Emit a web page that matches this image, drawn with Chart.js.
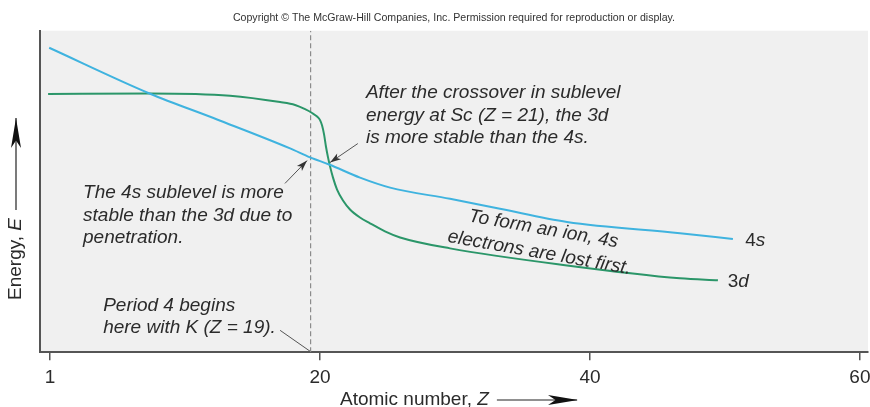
<!DOCTYPE html>
<html>
<head>
<meta charset="utf-8">
<script src="https://cdn.jsdelivr.net/npm/chart.js@4.4.0/dist/chart.umd.min.js"></script>
<style>
  html, body { margin: 0; padding: 0; background: #fff; }
  #wrap { width: 870px; height: 407px; }
</style>
</head>
<body>
<div id="wrap"><canvas id="chart" width="870" height="407"></canvas></div>
<script>
// x axis positions; the first tick is labelled "1"
const xTicks = [0, 20, 40, 60];
const xTickLabels = ['1', '20', '40', '60'];

// 4s sublevel energy (arbitrary units)
const s4X = [-0.07, 7.41, 12.37, 17.78, 19.26, 20.67, 22.96, 25.19, 29.63, 33.33, 38.3, 46.67, 50.59];
const s4Y = [94.7, 80.4, 72.4, 63.4, 60.6, 58.4, 54.3, 51.2, 47.7, 44.6, 40.5, 37.0, 35.2];

// 3d sublevel energy
const d3X = [-0.15, 7.41, 13.33, 17.04, 18.15, 18.89, 19.41, 19.78, 20.0, 20.15, 20.3, 20.44, 20.59,
             20.74, 20.96, 21.26, 21.7, 22.22, 22.96, 23.7, 24.81, 25.93, 29.63, 38.3, 46.67, 49.48];
const d3Y = [80.3, 80.5, 79.8, 77.8, 76.9, 75.6, 74.4, 73.3, 72.2, 70.5, 67.7, 63.9, 60.6,
             57.8, 54.3, 50.6, 47.2, 44.4, 41.9, 40.1, 37.6, 35.7, 32.3, 27.0, 23.0, 22.4];

// start of period 4 (K, Z = 19)
const period4Z = 19.3;

const FONT = "'Liberation Sans', Arial, Helvetica, sans-serif";
const TEXT = '#2b2b2b';
const BLUE = '#3fb3df';
const GREEN = '#2b9669';

// annotation text blocks, anchored in data coords (left, middle of first line)
const notes = [
  { x: 23.4, y: 80.6, lines: ['After the crossover in sublevel', 'energy at Sc (Z = 21), the 3d', 'is more stable than the 4s.'] },
  { x: 2.44, y: 49.5, lines: ['The 4s sublevel is more', 'stable than the 3d due to', 'penetration.'] },
  { x: 3.93, y: 14.6, lines: ['Period 4 begins', 'here with K (Z = 19).'] },
];
const tiltNote = { x: 36.4, y: 34.6, angle: 10, lines: ['To form an ion, 4s', 'electrons are lost first.'] };
const curveLabels = [
  { x: 51.5, y: 34.6, num: '4', sub: 's' },
  { x: 50.2, y: 22.0, num: '3', sub: 'd' },
];
const arrows = [
  { from: [17.4, 52.5], to: [19.04, 59.6], head: true },
  { from: [22.8, 64.9], to: [20.74, 59.0], head: true },
  { from: [17.04, 6.8], to: [19.26, 0.3], head: false },
];

function arrowHead(ctx, x1, y1, x2, y2, len, w) {
  const a = Math.atan2(y2 - y1, x2 - x1);
  ctx.save();
  ctx.translate(x2, y2);
  ctx.rotate(a);
  ctx.beginPath();
  ctx.moveTo(0, 0);
  ctx.lineTo(-len, -w / 2);
  ctx.lineTo(-len * 0.75, 0);
  ctx.lineTo(-len, w / 2);
  ctx.closePath();
  ctx.fill();
  ctx.restore();
}

const plotBg = {
  id: 'plotBg',
  beforeDraw(chart) {
    const { ctx, chartArea: a } = chart;
    ctx.save();
    ctx.fillStyle = '#f0f0f0';
    ctx.fillRect(a.left, a.top, a.right - a.left, a.bottom - a.top);
    ctx.restore();
  }
};

const annotate = {
  id: 'annotate',
  afterDraw(chart) {
    const { ctx } = chart;
    const xs = chart.scales.x, ys = chart.scales.y;
    const px = v => xs.getPixelForValue(v);
    const py = v => ys.getPixelForValue(v);
    const lh = 22.5;
    ctx.save();
    ctx.fillStyle = TEXT;
    ctx.textBaseline = 'middle';
    ctx.font = 'italic 19px ' + FONT;
    notes.forEach(n => {
      n.lines.forEach((t, i) => ctx.fillText(t, px(n.x), py(n.y) + i * lh));
    });

    // tilted note between the curves
    ctx.save();
    ctx.translate(px(tiltNote.x), py(tiltNote.y));
    ctx.rotate(tiltNote.angle * Math.PI / 180);
    ctx.textAlign = 'center';
    tiltNote.lines.forEach((t, i) => ctx.fillText(t, 0, (i - 0.5) * 24));
    ctx.restore();

    // curve labels: upright digit, italic letter
    curveLabels.forEach(l => {
      ctx.font = '19px ' + FONT;
      ctx.fillText(l.num, px(l.x), py(l.y));
      const w = ctx.measureText(l.num).width;
      ctx.font = 'italic 19px ' + FONT;
      ctx.fillText(l.sub, px(l.x) + w, py(l.y));
    });

    // pointer arrows
    ctx.strokeStyle = '#555';
    ctx.fillStyle = '#333';
    ctx.lineWidth = 1;
    arrows.forEach(a => {
      const x1 = px(a.from[0]), y1 = py(a.from[1]), x2 = px(a.to[0]), y2 = py(a.to[1]);
      ctx.beginPath();
      ctx.moveTo(x1, y1);
      ctx.lineTo(x2, y2);
      ctx.stroke();
      if (a.head) arrowHead(ctx, x1, y1, x2, y2, 11, 7);
    });

    // x axis title with arrow
    ctx.fillStyle = TEXT;
    ctx.textAlign = 'left';
    ctx.font = '19px ' + FONT;
    const tx = 340, ty = 400;
    ctx.fillText('Atomic number, ', tx, ty);
    let w = ctx.measureText('Atomic number, ').width;
    ctx.font = 'italic 19px ' + FONT;
    ctx.fillText('Z', tx + w, ty);
    w += ctx.measureText('Z').width;
    ctx.strokeStyle = '#222';
    ctx.lineWidth = 1.2;
    ctx.beginPath();
    ctx.moveTo(tx + w + 8, ty);
    ctx.lineTo(577, ty);
    ctx.stroke();
    ctx.fillStyle = '#111';
    arrowHead(ctx, tx + w + 8, ty, 578, ty, 30, 10);

    // y axis title with arrow
    ctx.save();
    ctx.translate(16, 300);
    ctx.rotate(-Math.PI / 2);
    ctx.fillStyle = TEXT;
    ctx.font = '19px ' + FONT;
    ctx.fillText('Energy, ', 0, 0);
    let wy = ctx.measureText('Energy, ').width;
    ctx.font = 'italic 19px ' + FONT;
    ctx.fillText('E', wy, 0);
    wy += ctx.measureText('E').width;
    ctx.beginPath();
    ctx.moveTo(wy + 8, 0);
    ctx.lineTo(300 - 118, 0);
    ctx.stroke();
    ctx.fillStyle = '#111';
    arrowHead(ctx, wy + 8, 0, 300 - 118, 0, 30, 10);
    ctx.restore();

    ctx.restore();
  }
};

const toPoints = (xs, ys) => xs.map((x, i) => ({ x, y: ys[i] }));

new Chart(document.getElementById('chart'), {
  type: 'line',
  data: {
    datasets: [
      {
        label: '4s',
        data: toPoints(s4X, s4Y),
        borderColor: BLUE,
        borderWidth: 2,
        pointRadius: 0,
        cubicInterpolationMode: 'monotone',
      },
      {
        label: '3d',
        data: toPoints(d3X, d3Y),
        borderColor: GREEN,
        borderWidth: 2,
        pointRadius: 0,
        cubicInterpolationMode: 'monotone',
      },
      {
        label: 'Period 4',
        data: [{ x: period4Z, y: 0 }, { x: period4Z, y: 100 }],
        borderColor: '#8c8c8c',
        borderWidth: 1.2,
        borderDash: [5, 3],
        pointRadius: 0,
      },
    ],
  },
  options: {
    responsive: false,
    animation: false,
    layout: { padding: { left: 40, right: 2, top: 0, bottom: 12 } },
    plugins: {
      legend: { display: false },
      tooltip: { enabled: false },
      title: {
        display: true,
        text: 'Copyright \u00A9 The McGraw-Hill Companies, Inc. Permission required for reproduction or display.',
        color: '#333',
        font: { family: FONT, size: 10.6, weight: 'normal' },
        padding: { top: 12, bottom: 6 },
      },
    },
    scales: {
      x: {
        type: 'linear',
        min: -0.75,
        max: 60.6,
        afterBuildTicks: s => { s.ticks = xTicks.map(v => ({ value: v })); },
        afterFit: s => { s.paddingLeft = 0; s.paddingRight = 0; },
        ticks: {
          callback: v => xTickLabels[xTicks.indexOf(v)],
          color: TEXT,
          font: { family: FONT, size: 19 },
          padding: 6,
          maxRotation: 0,
          autoSkip: false,
        },
        grid: { drawOnChartArea: false, drawTicks: true, tickLength: 8, color: '#555', lineWidth: 1.5 },
        border: { color: '#555', width: 2 },
      },
      y: {
        min: 0,
        max: 100,
        ticks: { display: false },
        grid: { display: false, drawTicks: false },
        border: { color: '#555', width: 2 },
      },
    },
  },
  plugins: [plotBg, annotate],
});
</script>
</body>
</html>
